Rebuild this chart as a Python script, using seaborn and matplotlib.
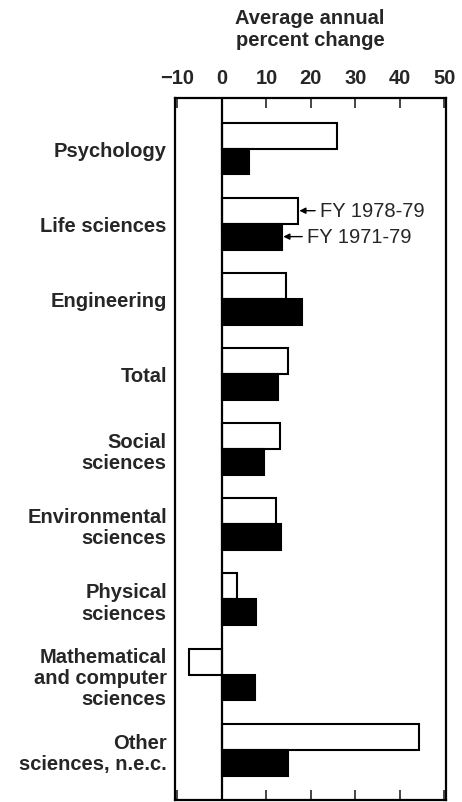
import pandas as pd
import matplotlib.pyplot as plt
import seaborn as sns


CATEGORIES = [
    "Psychology",
    "Life sciences",
    "Engineering",
    "Total",
    "Social\nsciences",
    "Environmental\nsciences",
    "Physical\nsciences",
    "Mathematical\nand computer\nsciences",
    "Other\nsciences, n.e.c.",
]
SERIES = ["FY 1978-79", "FY 1971-79"]
FY_1978_79 = [25.8, 17.1, 14.5, 14.8, 13.0, 12.1, 3.3, -7.3, 44.3]
FY_1971_79 = [6.1, 13.5, 17.9, 12.5, 9.5, 13.3, 7.6, 7.4, 14.8]
X_TICKS = [-10, 0, 10, 20, 30, 40, 50]

FONT_SIZE = 14.5


def build_frame():
    rows = []
    for cat, a, b in zip(CATEGORIES, FY_1978_79, FY_1971_79):
        rows.append({"field": cat, "period": SERIES[0], "change": a})
        rows.append({"field": cat, "period": SERIES[1], "change": b})
    return pd.DataFrame(rows)


def plot_chart():
    df = build_frame()

    sns.set_style("white")
    plt.rcParams["font.family"] = ["Liberation Sans", "DejaVu Sans"]

    fig = plt.figure(figsize=(4.62, 8.03), dpi=100)
    ax = fig.add_axes([0.379, 0.0025, 0.586, 0.874])

    sns.barplot(
        data=df,
        x="change",
        y="field",
        hue="period",
        hue_order=SERIES,
        order=CATEGORIES,
        palette={SERIES[0]: "white", SERIES[1]: "black"},
        edgecolor="black",
        linewidth=1.5,
        width=0.69,
        orient="h",
        errorbar=None,
        legend=False,
        ax=ax,
    )

    ax.axvline(0, color="black", linewidth=1.6, zorder=5)
    ax.set_xlim(-10.5, 50.3)
    ax.set_ylim(len(CATEGORIES) - 0.33, -0.67)

    ax.set_xticks(X_TICKS)
    ax.tick_params(axis="x", which="both", top=True, bottom=True,
                   labeltop=True, labelbottom=False, direction="in",
                   length=7.5, width=1.2, pad=8, labelsize=FONT_SIZE)
    ax.tick_params(axis="y", length=0, pad=6, labelsize=FONT_SIZE)
    for lab in ax.get_xticklabels():
        lab.set_fontweight("bold")
    for lab in ax.get_yticklabels():
        lab.set_fontweight("bold")
        lab.set_multialignment("right")
        lab.set_linespacing(1.15)

    ax.set_xlabel("")
    ax.set_ylabel("")
    for spine in ax.spines.values():
        spine.set_visible(True)
        spine.set_color("black")
        spine.set_linewidth(1.6)

    # legend as arrows pointing at the life sciences bars
    off = 0.69 / 4
    ax.annotate(SERIES[0], xy=(FY_1978_79[1] + 0.3, 1 - off), xytext=(22.0, 1 - off),
                ha="left", va="center", fontsize=FONT_SIZE,
                arrowprops=dict(arrowstyle="-|>", color="black", lw=1.0,
                                mutation_scale=9, shrinkA=1, shrinkB=0))
    ax.annotate(SERIES[1], xy=(FY_1971_79[1] + 0.3, 1 + off), xytext=(19.1, 1 + off),
                ha="left", va="center", fontsize=FONT_SIZE,
                arrowprops=dict(arrowstyle="-|>", color="black", lw=1.0,
                                mutation_scale=9, shrinkA=1, shrinkB=0))

    fig.text(0.671, 1 - 29 / 803, "Average annual\npercent change",
             ha="center", va="center", fontsize=FONT_SIZE, fontweight="bold",
             linespacing=1.2)

    fig.savefig("out.png", dpi=100)
    plt.close(fig)


if __name__ == "__main__":
    plot_chart()
